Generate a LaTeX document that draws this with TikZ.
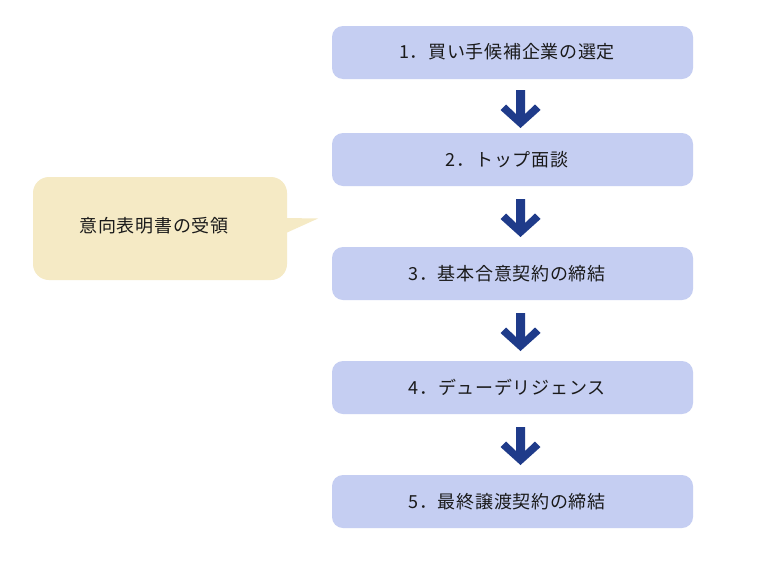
\documentclass[tikz,border=0pt]{standalone}
\usepackage{fontspec}
\newfontfamily\jp[LetterSpace=4]{Noto Sans CJK JP}
\definecolor{boxfill}{HTML}{C5CEF2}
\definecolor{arrowcol}{HTML}{1F3B8A}
\definecolor{callfill}{HTML}{F5EAC5}
\definecolor{txt}{HTML}{1A1A1A}
\begin{document}
\begin{tikzpicture}[x=1pt,y=-1pt,
  stepbox/.style={fill=boxfill,rounded corners=11pt},
  lbl/.style={font=\jp\fontsize{18}{20}\selectfont,text=txt,inner sep=0pt},
  downarrow/.style={fill=arrowcol}]
\useasboundingbox (0,0) rectangle (760,560);
\fill[white] (0,0) rectangle (760,560);
% boxes
\foreach \n/\t in {1/26,2/133,3/247,4/361,5/475}{
  \fill[stepbox] (332,\t) rectangle (693,\t+53);
}
\node[lbl] (b1) at (507,52) {1．買い手候補企業の選定};
\node[lbl] (b2) at (507,159.5) {2．トップ面談};
\node[lbl] (b3) at (507,273.5) {3．基本合意契約の締結};
\node[lbl] (b4) at (507,387.5) {4．デューデリジェンス};
\node[lbl] (b5) at (507,501.5) {5．最終譲渡契約の締結};
% arrows
\foreach \t in {90,199,313,427}{
  \fill[downarrow] (516,\t) -- (525,\t) -- (525,\t+24) -- (535,\t+14.5) -- (540.5,\t+20) -- (520.5,\t+38) -- (500.5,\t+20) -- (506,\t+14.5) -- (516,\t+24) -- cycle;
}
% callout
\fill[callfill,rounded corners=16pt] (33,177) rectangle (287,280);
\fill[callfill] (286,218) -- (318,218.5) -- (286,233) -- cycle;
\node[lbl] (c) at (154,226) {意向表明書の受領};
\end{tikzpicture}
\end{document}
